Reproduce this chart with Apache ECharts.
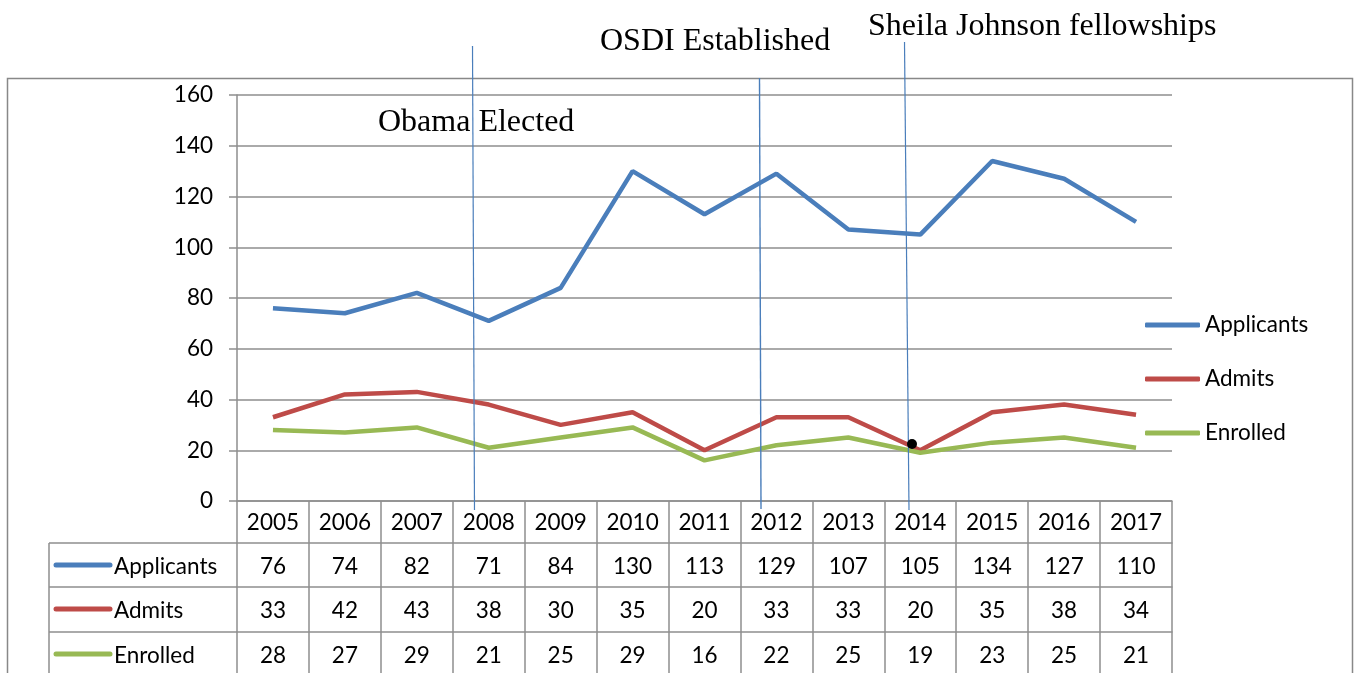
<!DOCTYPE html>
<html>
<head>
<meta charset="utf-8">
<script src="https://cdn.jsdelivr.net/npm/echarts@6/dist/echarts.min.js"></script>
<style>
html,body{margin:0;padding:0;background:#fff;}
#c{width:1359px;height:673px;}
</style>
</head>
<body>
<div id="c"></div>
<script>
const years = ['2005','2006','2007','2008','2009','2010','2011','2012','2013','2014','2015','2016','2017'];
const applicants = [76,74,82,71,84,130,113,129,107,105,134,127,110];
const admits = [33,42,43,38,30,35,20,33,33,20,35,38,34];
const enrolled = [28,27,29,21,25,29,16,22,25,19,23,25,21];
const seriesNames = ['Applicants','Admits','Enrolled'];
const yTicks = [0,20,40,60,80,100,120,140,160];
const annotations = ['Obama Elected','OSDI Established','Sheila Johnson fellowships'];

const colors = ['#4a7ebb','#be4b48','#98b954'];
const gridColor = '#8e8e8e';
const FONT = 'Lato';
const FS = 22.5;

const chart = echarts.init(document.getElementById('c'));

function tableAxis(data, offset, tickLen, margin) {
  return {
    type: 'category', gridIndex: 0, position: 'bottom', offset: offset,
    data: data, boundaryGap: true,
    axisLine: {show: true, lineStyle: {color: gridColor, width: 1.5}},
    axisTick: {show: true, length: tickLen, interval: 0, lineStyle: {color: gridColor, width: 1.5}},
    axisLabel: {show: true, interval: 0, margin: margin, fontSize: FS, fontFamily: FONT, color: '#000'},
    splitLine: {show: false}
  };
}

const legendRowsY = [565, 609, 654];
const graphics = [
  {type: 'rect', shape: {x: 7.5, y: 78.5, width: 1345, height: 700}, style: {fill: 'none', stroke: '#888', lineWidth: 1.5}, z: 0},
  {type: 'line', shape: {x1: 49, y1: 543, x2: 237, y2: 543}, style: {stroke: gridColor, lineWidth: 1.5}},
  {type: 'line', shape: {x1: 49, y1: 587, x2: 237, y2: 587}, style: {stroke: gridColor, lineWidth: 1.5}},
  {type: 'line', shape: {x1: 49, y1: 632, x2: 237, y2: 632}, style: {stroke: gridColor, lineWidth: 1.5}},
  {type: 'line', shape: {x1: 49, y1: 543, x2: 49, y2: 690}, style: {stroke: gridColor, lineWidth: 1.5}},
  {type: 'line', shape: {x1: 472.5, y1: 46, x2: 474.5, y2: 510}, style: {stroke: '#4a7ebb', lineWidth: 1.2}, z: 20},
  {type: 'line', shape: {x1: 759.5, y1: 78, x2: 761, y2: 509}, style: {stroke: '#4a7ebb', lineWidth: 1.4}, z: 20},
  {type: 'line', shape: {x1: 904.5, y1: 42, x2: 909, y2: 510}, style: {stroke: '#4a7ebb', lineWidth: 1.2}, z: 20},
  {type: 'text', x: 378, y: 123, style: {text: annotations[0], font: '32px "Liberation Serif"', fill: '#000', verticalAlign: 'middle'}, z: 20},
  {type: 'text', x: 600, y: 42, style: {text: annotations[1], font: '32px "Liberation Serif"', fill: '#000', verticalAlign: 'middle'}, z: 20},
  {type: 'text', x: 868, y: 27, style: {text: annotations[2], font: '32px "Liberation Serif"', fill: '#000', verticalAlign: 'middle'}, z: 20},
  {type: 'circle', shape: {cx: 912, cy: 444, r: 5}, style: {fill: '#000'}, z: 30}
];
seriesNames.forEach((name, i) => {
  graphics.push({type: 'line', shape: {x1: 56, y1: legendRowsY[i], x2: 110, y2: legendRowsY[i]}, style: {stroke: colors[i], lineWidth: 5, lineCap: 'round'}});
  graphics.push({type: 'text', x: 114, y: legendRowsY[i] + 2, style: {text: name, font: FS + 'px ' + FONT, fill: '#000', verticalAlign: 'middle'}});
});

chart.setOption({
  animation: false,
  backgroundColor: '#fff',
  grid: {left: 237, top: 95, width: 935, height: 406, containLabel: false},
  legend: {
    data: seriesNames, orient: 'vertical', left: 1145, top: 312,
    itemWidth: 55, itemHeight: 5, itemGap: 28, padding: 0,
    icon: 'roundRect',
    textStyle: {fontSize: FS, fontFamily: FONT, color: '#000', lineHeight: 26}
  },
  xAxis: [
    tableAxis(years, 0, 42, 10),
    tableAxis(applicants.map(String), 42, 44, 12),
    tableAxis(admits.map(String), 86, 45, 12),
    tableAxis(enrolled.map(String), 131, 60, 12)
  ],
  yAxis: {
    type: 'value', min: yTicks[0], max: yTicks[yTicks.length - 1], interval: 20,
    axisLine: {show: true, lineStyle: {color: gridColor, width: 1.5}},
    axisTick: {show: true, length: 8, lineStyle: {color: gridColor, width: 1.5}},
    axisLabel: {fontSize: FS, fontFamily: FONT, color: '#000', margin: 24},
    splitLine: {show: true, lineStyle: {color: gridColor, width: 1.5}}
  },
  series: [
    {name: seriesNames[0], type: 'line', data: applicants, symbol: 'none', lineStyle: {color: colors[0], width: 4.5}, itemStyle: {color: colors[0]}},
    {name: seriesNames[1], type: 'line', data: admits, symbol: 'none', lineStyle: {color: colors[1], width: 4.5}, itemStyle: {color: colors[1]}},
    {name: seriesNames[2], type: 'line', data: enrolled, symbol: 'none', lineStyle: {color: colors[2], width: 4.5}, itemStyle: {color: colors[2]}}
  ],
  graphic: graphics
});
</script>
</body>
</html>
